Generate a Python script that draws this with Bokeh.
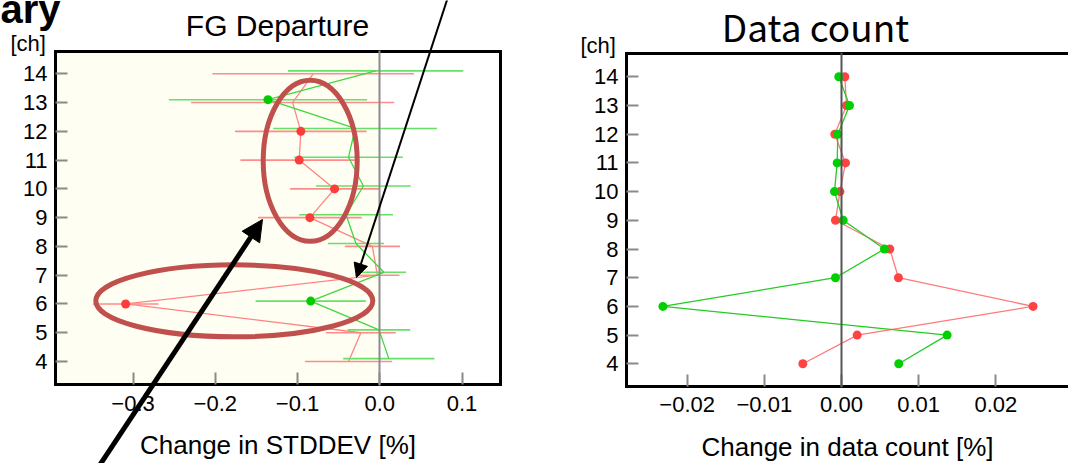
from bokeh.plotting import figure
from bokeh.models import (Range1d, FixedTicker, CustomJSTickFormatter, BoxAnnotation,
                          Label, Arrow, NormalHead, LinearAxis, ColumnDataSource)
from bokeh.transform import dodge
from bokeh.embed import file_html
from bokeh.resources import INLINE

# ---------------- data ----------------
channels = [14, 13, 12, 11, 10, 9, 8, 7, 6, 5, 4]
ch_ticks = [4, 5, 6, 7, 8, 9, 10, 11, 12, 13, 14]

# FG departure: change in STDDEV [%] (red / green experiments) with half-width of error bars
fg_red = [-0.081, -0.106, -0.096, -0.098, -0.055, -0.085, -0.009, -0.003, -0.309, -0.023, -0.038]
fg_red_err = [0.1225, 0.1235, 0.080, 0.0715, 0.054, 0.063, 0.0335, 0.027, 0.040, 0.0425, 0.053]
fg_red_sig = [False, False, True, True, True, True, False, False, True, False, False]
fg_green = [-0.005, -0.136, -0.030, -0.038, -0.020, -0.041, -0.029, 0.005, -0.084, -0.001, 0.011]
fg_green_err = [0.1065, 0.1205, 0.0995, 0.066, 0.0575, 0.057, 0.034, 0.027, 0.067, 0.038, 0.0555]
fg_green_sig = [False, True, False, False, False, False, False, False, True, False, False]

# Data count: change in data count [%]
dc_red = [0.00043, 0.00065, -0.00087, 0.00052, -0.00020, -0.00078, 0.00626, 0.00738, 0.02483, 0.00203, -0.00501]
dc_green = [-0.00035, 0.00104, -0.00048, -0.00056, -0.00091, 0.00022, 0.00557, -0.00078, -0.02315, 0.01369, 0.00742]

fg_xticks = [-0.3, -0.2, -0.1, 0.0, 0.1]
dc_xticks = [-0.02, -0.01, 0.0, 0.01, 0.02]

title_left = "FG Departure"
title_right = "Data count"
xlabel_left = "Change in STDDEV [%]"
xlabel_right = "Change in data count [%]"
ylabel = "[ch]"
heading_fragment = "ary"

# ---------------- layout (pixels on the 1068 x 463 page) ----------------
W, H = 1068, 463
# anchors: (value, pixel) pairs used to build the scales of each panel
L_X = ((0.0, 379.3), (0.1, 461.55))
L_Y = ((14, 73.3), (4, 361.0))
R_X = ((0.0, 841.0), (0.02, 995.3))
R_Y = ((14, 76.3), (4, 363.3))
L_BOX = (55, 51, 500, 384)       # left, top, right, bottom (px)
R_BOX = (626, 53, 1068, 385.5)


def val_at(anchors, px):
    (v0, p0), (v1, p1) = anchors
    return v0 + (px - p0) * (v1 - v0) / (p1 - p0)


def x_range(anchors):
    return Range1d(val_at(anchors, 0), val_at(anchors, W))


def y_range(anchors):
    return Range1d(val_at(anchors, H), val_at(anchors, 0))


def box(ax_, ay_, b):
    l, t, r, btm = b
    return val_at(ax_, l), val_at(ay_, t), val_at(ax_, r), val_at(ay_, btm)


# ---------------- style ----------------
FONT = "Liberation Sans"
CJK_FONT = "Noto Sans CJK JP"
RED_LINE = "#ff8484"
RED_ERR = "#ff8c8c"
RED_DOT = "#ff3b3b"
GREEN_LINE = "#3fd83f"
GREEN_ERR = "#66e066"
GREEN_DOT = "#00cc00"
ANNOT = "#c0504d"
TICK_GREY = "#8a8a8a"

p = figure(width=W, height=H, output_backend="svg", toolbar_location=None,
           x_range=x_range(L_X), y_range=y_range(L_Y),
           x_axis_type=None, y_axis_type=None, min_border=0,
           min_border_left=0, min_border_right=0, min_border_top=0, min_border_bottom=0)
p.extra_x_ranges = {"dc": x_range(R_X)}
p.extra_y_ranges = {"chR": y_range(R_Y)}
p.outline_line_color = None
p.background_fill_color = "white"
p.border_fill_color = "white"


def plain_axis(side, loc, bounds, xr="default", yr="default", color="black", width=3):
    ax = LinearAxis(fixed_location=loc, bounds=bounds, x_range_name=xr, y_range_name=yr,
                    axis_line_color=color, axis_line_width=width, axis_line_cap="square",
                    ticker=FixedTicker(ticks=[]), major_tick_line_color=None,
                    minor_tick_line_color=None, major_label_text_font_size="0px")
    p.add_layout(ax, side)
    return ax


def tick_axis(side, loc, bounds, ticks, xr="default", yr="default", decimals=None, label=None):
    ax = LinearAxis(fixed_location=loc, bounds=bounds, x_range_name=xr, y_range_name=yr,
                    axis_line_color="black", axis_line_width=3, axis_line_cap="square",
                    ticker=FixedTicker(ticks=ticks), major_tick_in=12, major_tick_out=0,
                    major_tick_line_color=TICK_GREY, major_tick_line_width=2,
                    minor_tick_line_color=None,
                    major_label_text_font=FONT, major_label_text_font_size="22px",
                    major_label_text_color="black")
    if decimals is not None:
        ax.formatter = CustomJSTickFormatter(
            code="return tick.toFixed(%d).replace('-', '\u2212');" % decimals)
        ax.major_label_standoff = 11
    else:
        ax.major_label_standoff = 8
    if label is not None:
        ax.axis_label = label
        ax.axis_label_text_font = FONT
        ax.axis_label_text_font_style = "normal"
        ax.axis_label_text_font_size = "26px"
        ax.axis_label_text_color = "black"
        ax.axis_label_standoff = 16
    p.add_layout(ax, side)
    return ax


# ---------------- left panel: FG departure ----------------
lx0, ly1, lx1, ly0 = box(L_X, L_Y, L_BOX)
p.add_layout(BoxAnnotation(left=lx0, right=0, bottom=ly0, top=ly1, fill_color="#fffef2",
                           fill_alpha=1.0, line_color=None, level="underlay"))

src_r = ColumnDataSource(dict(ch=channels, v=fg_red,
                              lo=[v - e for v, e in zip(fg_red, fg_red_err)],
                              hi=[v + e for v, e in zip(fg_red, fg_red_err)]))
src_g = ColumnDataSource(dict(ch=channels, v=fg_green,
                              lo=[v - e for v, e in zip(fg_green, fg_green_err)],
                              hi=[v + e for v, e in zip(fg_green, fg_green_err)]))
src_r_sig = ColumnDataSource(dict(ch=[c for c, s in zip(channels, fg_red_sig) if s],
                                  v=[v for v, s in zip(fg_red, fg_red_sig) if s]))
src_g_sig = ColumnDataSource(dict(ch=[c for c, s in zip(channels, fg_green_sig) if s],
                                  v=[v for v, s in zip(fg_green, fg_green_sig) if s]))

gy = dodge("ch", 0.1, range=p.y_range)
p.segment(x0="lo", x1="hi", y0="ch", y1="ch", source=src_r, line_color=RED_ERR, line_width=1.6)
p.line(x="v", y="ch", source=src_r, line_color=RED_LINE, line_width=1.3)
p.segment(x0="lo", x1="hi", y0=gy, y1=gy, source=src_g, line_color=GREEN_ERR, line_width=1.6)
p.line(x="v", y=gy, source=src_g, line_color=GREEN_LINE, line_width=1.3)
p.scatter(x="v", y="ch", source=src_r_sig, size=9, fill_color=RED_DOT, line_color=None)
p.scatter(x="v", y=dodge("ch", 0.1, range=p.y_range), source=src_g_sig, size=9,
          fill_color=GREEN_DOT, line_color=None)

# zero line and frame of the left panel
plain_axis("left", 0.0, (ly0, ly1), color="#8c8c8c", width=2)
tick_axis("left", lx0, (ly0, ly1), ch_ticks)
tick_axis("below", ly0, (lx0, lx1), fg_xticks, decimals=1, label=xlabel_left)
plain_axis("above", ly1, (lx0, lx1))
plain_axis("right", lx1, (ly0, ly1))

# ---------------- right panel: data count ----------------
rx0, ry1, rx1, ry0 = box(R_X, R_Y, R_BOX)
src_dr = ColumnDataSource(dict(ch=channels, v=dc_red))
src_dg = ColumnDataSource(dict(ch=channels, v=dc_green))
p.line(x="v", y="ch", source=src_dr, line_color="#ff7a7a", line_width=1.3,
       x_range_name="dc", y_range_name="chR")
p.scatter(x="v", y="ch", source=src_dr, size=9, fill_color="#ff4242", line_color=None,
          x_range_name="dc", y_range_name="chR")
p.line(x="v", y="ch", source=src_dg, line_color="#22cc22", line_width=1.3,
       x_range_name="dc", y_range_name="chR")
p.scatter(x="v", y="ch", source=src_dg, size=9, fill_color="#00d000", line_color=None,
          x_range_name="dc", y_range_name="chR")

plain_axis("left", 0.0, (ry0, ry1), xr="dc", yr="chR", color="#555555", width=2)
tick_axis("left", rx0, (ry0, ry1), ch_ticks, xr="dc", yr="chR")
tick_axis("below", ry0, (rx0, rx1), dc_xticks, xr="dc", yr="chR", decimals=2, label=xlabel_right)
plain_axis("above", ry1, (rx0, rx1), xr="dc", yr="chR")

# ---------------- highlight marks (slide annotations) ----------------
ell_px = [(309.7, 160.3), (233.8, 300.3)]
p.ellipse(x=[val_at(L_X, e[0]) for e in ell_px], y=[val_at(L_Y, e[1]) for e in ell_px],
          width=[94, 277], height=[161, 72], width_units="screen", height_units="screen",
          fill_color=None, line_color=ANNOT, line_width=5)

p.add_layout(Arrow(end=NormalHead(size=14, fill_color="black", line_color="black"),
                   x_start=447, y_start=-2, x_end=356, y_end=277,
                   start_units="canvas", end_units="canvas",
                   line_color="black", line_width=2))
p.add_layout(Arrow(end=NormalHead(size=21, fill_color="black", line_color="black"),
                   x_start=97, y_start=468, x_end=262, y_end=219,
                   start_units="canvas", end_units="canvas",
                   line_color="black", line_width=5))


# ---------------- texts ----------------
# Labels are anchored at the middle of their text box; (ascent - descent) / 2 per font
MID_SHIFT = {FONT: 0.3465, CJK_FONT: 0.436}


def canvas_label(x, baseline, text, size, font=FONT, align="left", style="normal"):
    y = baseline - MID_SHIFT[font] * size
    p.add_layout(Label(x=x, y=y, x_units="canvas", y_units="canvas", text=text,
                       text_align=align, text_baseline="middle", text_font=font,
                       text_font_size="%dpx" % size, text_font_style=style,
                       text_color="black"))


canvas_label(277, 35, title_left, 30, align="center")
canvas_label(815, 42, title_right, 37, font=CJK_FONT, align="center")
canvas_label(10, 50.5, ylabel, 22)
canvas_label(580, 53, ylabel, 22)
canvas_label(0, 22, heading_fragment, 40, style="bold")

open("out.html", "w").write(file_html(p, INLINE))
